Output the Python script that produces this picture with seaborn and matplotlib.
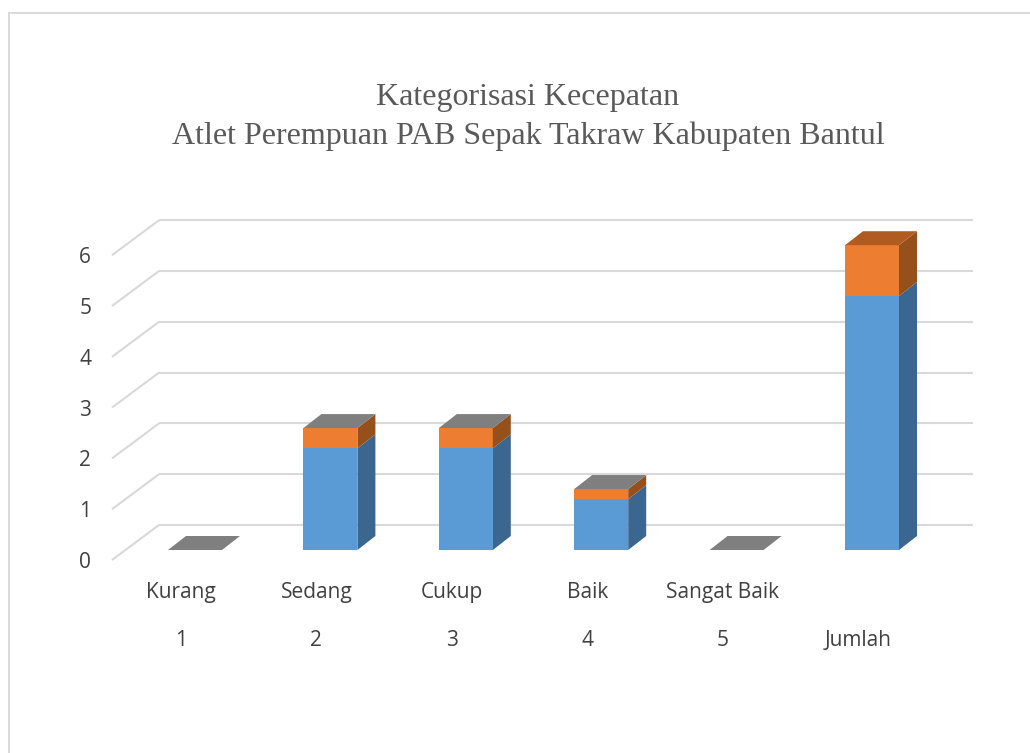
import matplotlib
matplotlib.use("Agg")
import matplotlib.pyplot as plt
from matplotlib.lines import Line2D
from matplotlib.patches import Polygon
import pandas as pd
import seaborn as sns

categories = ["Kurang", "Sedang", "Cukup", "Baik", "Sangat Baik", ""]
row_labels = ["1", "2", "3", "4", "5", "Jumlah"]
blue_values = [0, 2, 2, 1, 0, 5]
orange_values = [0, 0.4, 0.4, 0.2, 0, 1]
y_ticks = [0, 1, 2, 3, 4, 5, 6]

W, H = 1030, 753
# pixel layout of the pseudo 3d plot
left, right, top, bottom = 112, 973, 200, 570
first_x, step_x = 195, 135.4
zero_y, step_y = 550, 50.8
bar_w = 54 / step_x
dx, dy = 18 / step_x, 14 / step_y
front_shift, back_shift = 10 / step_y, 25 / step_y
grid_dx = 47 / step_x
label_shift = 14 / step_x

BLUE, BLUE_SIDE = "#5B9BD5", "#3A6690"
ORANGE, ORANGE_SIDE, ORANGE_TOP = "#ED7D31", "#96501C", "#B05C20"
GREY_TOP = "#7F7F7F"
GRID = "#D9D9D9"
TEXT = "#595959"
LABEL = "#404040"

sns.set_theme(style="white")
plt.rcParams["font.family"] = ["Open Sans", "DejaVu Sans"]

pos = list(range(len(categories)))
df = pd.DataFrame({"pos": pos, "blue": blue_values, "orange": orange_values})
df["total"] = df["blue"] + df["orange"]

fig = plt.figure(figsize=(W / 100, H / 100), dpi=100)
ax = fig.add_axes([left / W, 1 - bottom / H, (right - left) / W, (bottom - top) / H])

# outer frame, only top and left are inside the picture
fig.add_artist(Line2D([9 / W, 9 / W], [0, 1 - 13 / H], color=GRID, lw=1.4))
fig.add_artist(Line2D([9 / W, 1], [1 - 13 / H, 1 - 13 / H], color=GRID, lw=1.4))

# gridlines on the back wall and the floor/side wall
for v in y_ticks:
    back = v + back_shift
    ax.plot([-(first_x - left) / step_x + grid_dx, (right - first_x) / step_x], [back, back],
            color=GRID, lw=1.5, zorder=1, solid_capstyle="butt")
    ax.plot([-(first_x - left) / step_x, -(first_x - left) / step_x + grid_dx], [v - front_shift, back],
            color=GRID, lw=1.5, zorder=1, solid_capstyle="butt", clip_on=False)

sns.barplot(data=df, x="pos", y="total", native_scale=True, color=ORANGE, saturation=1,
            width=bar_w, errorbar=None, ax=ax, zorder=3, linewidth=0)
sns.barplot(data=df, x="pos", y="blue", native_scale=True, color=BLUE, saturation=1,
            width=bar_w, errorbar=None, ax=ax, zorder=4, linewidth=0)

for i, row in df.iterrows():
    x1 = row["pos"] + bar_w / 2
    x0 = row["pos"] - bar_w / 2
    b, t = row["blue"], row["total"]
    if t > 0:
        ax.add_patch(Polygon([(x1, 0), (x1 + dx, dy), (x1 + dx, b + dy), (x1, b)],
                             fc=BLUE_SIDE, ec="none", zorder=3))
        ax.add_patch(Polygon([(x1, b), (x1 + dx, b + dy), (x1 + dx, t + dy), (x1, t)],
                             fc=ORANGE_SIDE, ec="none", zorder=3))
    top_color = ORANGE_TOP if row_labels[i] == "Jumlah" else GREY_TOP
    ax.add_patch(Polygon([(x0, t), (x1, t), (x1 + dx, t + dy), (x0 + dx, t + dy)],
                         fc=top_color, ec="none", zorder=5))

ax.set_xlim((left - first_x) / step_x, (right - first_x) / step_x)
ax.set_ylim((zero_y - bottom) / step_y, (zero_y - top) / step_y)
sns.despine(ax=ax, left=True, bottom=True)
ax.set_xlabel("")
ax.set_ylabel("")
ax.patch.set_alpha(0)

ax.set_yticks([v - front_shift for v in y_ticks])
ax.set_yticklabels([str(v) for v in y_ticks], fontsize=15, color=LABEL)
ax.tick_params(axis="y", length=0, pad=15)

ax.set_xticks([p - label_shift for p in pos])
ax.set_xticklabels(categories, fontsize=15, color=LABEL)
ax.tick_params(axis="x", which="major", length=0, pad=8.5)
ax.set_xticks([p - label_shift + 0.0001 for p in pos], minor=True)
ax.set_xticklabels(row_labels, minor=True, fontsize=15, color=LABEL)
ax.tick_params(axis="x", which="minor", length=0, pad=43)

fig.text(528 / W, 1 - 97 / H, "Kategorisasi Kecepatan", family="Liberation Serif", fontsize=23,
         color=TEXT, ha="center", va="center")
fig.text(528 / W, 1 - 136 / H, "Atlet Perempuan PAB Sepak Takraw Kabupaten Bantul",
         family="Liberation Serif", fontsize=23, color=TEXT, ha="center", va="center")

fig.savefig("out.png", dpi=100, facecolor="white")
plt.close()
